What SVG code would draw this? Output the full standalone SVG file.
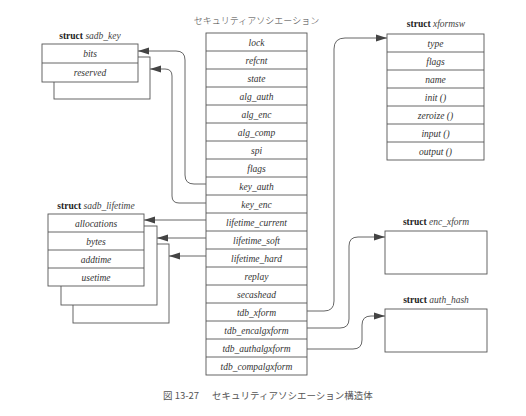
<svg xmlns="http://www.w3.org/2000/svg" width="526" height="416" viewBox="0 0 526 416">
<defs>
<marker id="ah" markerUnits="userSpaceOnUse" markerWidth="11" markerHeight="8" refX="11" refY="4" orient="auto">
<path d="M0,0.5 L11,4 L0,7.5 z" fill="#444"/>
</marker>
<style>
.bx{fill:#fff;stroke:#555;stroke-width:0.9}
.ln{stroke:#555;stroke-width:0.9}
.f{font-style:italic;font-size:9.5px;fill:#333;text-anchor:middle}
.t{font-size:9.5px;fill:#222;text-anchor:middle}
.t .b{font-weight:bold;font-style:normal}
.t .i{font-style:italic;fill:#444}
.c{fill:none;stroke:#666;stroke-width:1}
.jp{fill:#444}
</style>
</defs>
<rect width="526" height="416" fill="#fff"/>
<g font-family="Liberation Serif, Times New Roman, serif">

<g id="sa">
<text class="jp" x="256.5" y="24" font-size="9" text-anchor="middle" font-family="Noto Sans CJK JP, sans-serif" font-weight="300">セキュリティアソシエーション</text>
<rect class="bx" x="206" y="33" width="101" height="342"/>
<g class="ln">
<line x1="206" y1="51" x2="307" y2="51"/><line x1="206" y1="69" x2="307" y2="69"/><line x1="206" y1="87" x2="307" y2="87"/><line x1="206" y1="105" x2="307" y2="105"/><line x1="206" y1="123" x2="307" y2="123"/><line x1="206" y1="141" x2="307" y2="141"/><line x1="206" y1="159" x2="307" y2="159"/><line x1="206" y1="177" x2="307" y2="177"/><line x1="206" y1="195" x2="307" y2="195"/><line x1="206" y1="213" x2="307" y2="213"/><line x1="206" y1="231" x2="307" y2="231"/><line x1="206" y1="249" x2="307" y2="249"/><line x1="206" y1="267" x2="307" y2="267"/><line x1="206" y1="285" x2="307" y2="285"/><line x1="206" y1="303" x2="307" y2="303"/><line x1="206" y1="321" x2="307" y2="321"/><line x1="206" y1="339" x2="307" y2="339"/><line x1="206" y1="357" x2="307" y2="357"/>
</g>
<text class="f" x="256.5" y="45.5">lock</text>
<text class="f" x="256.5" y="63.5">refcnt</text>
<text class="f" x="256.5" y="81.5">state</text>
<text class="f" x="256.5" y="99.5">alg_auth</text>
<text class="f" x="256.5" y="117.5">alg_enc</text>
<text class="f" x="256.5" y="135.5">alg_comp</text>
<text class="f" x="256.5" y="153.5">spi</text>
<text class="f" x="256.5" y="171.5">flags</text>
<text class="f" x="256.5" y="189.5">key_auth</text>
<text class="f" x="256.5" y="207.5">key_enc</text>
<text class="f" x="256.5" y="225.5">lifetime_current</text>
<text class="f" x="256.5" y="243.5">lifetime_soft</text>
<text class="f" x="256.5" y="261.5">lifetime_hard</text>
<text class="f" x="256.5" y="279.5">replay</text>
<text class="f" x="256.5" y="297.5">secashead</text>
<text class="f" x="256.5" y="315.5">tdb_xform</text>
<text class="f" x="256.5" y="333.5">tdb_encalgxform</text>
<text class="f" x="256.5" y="351.5">tdb_authalgxform</text>
<text class="f" x="256.5" y="369.5">tdb_compalgxform</text>
</g>

<g id="sadb_key">
<text class="t" x="90" y="39"><tspan class="b">struct</tspan> <tspan class="i">sadb_key</tspan></text>
<rect class="bx" x="54" y="57" width="96" height="42"/>
<rect class="bx" x="42" y="44" width="96" height="38"/>
<line class="ln" x1="42" y1="63" x2="138" y2="63"/>
<text class="f" x="90" y="57">bits</text>
<text class="f" x="90" y="76">reserved</text>
</g>

<g id="sadb_lifetime">
<text class="t" x="96" y="209"><tspan class="b">struct</tspan> <tspan class="i">sadb_lifetime</tspan></text>
<rect class="bx" x="73" y="244" width="96" height="79"/>
<rect class="bx" x="61" y="226" width="96" height="79"/>
<rect class="bx" x="48" y="214" width="96" height="72"/>
<g class="ln">
<line x1="48" y1="232" x2="144" y2="232"/><line x1="48" y1="250" x2="144" y2="250"/><line x1="48" y1="268" x2="144" y2="268"/>
</g>
<text class="f" x="96" y="226.5">allocations</text>
<text class="f" x="96" y="244.5">bytes</text>
<text class="f" x="96" y="262.5">addtime</text>
<text class="f" x="96" y="280.5">usetime</text>
</g>

<g id="xformsw">
<text class="t" x="436" y="27"><tspan class="b">struct</tspan> <tspan class="i">xformsw</tspan></text>
<rect class="bx" x="387" y="34" width="97" height="126"/>
<g class="ln">
<line x1="387" y1="52" x2="484" y2="52"/><line x1="387" y1="70" x2="484" y2="70"/><line x1="387" y1="88" x2="484" y2="88"/><line x1="387" y1="106" x2="484" y2="106"/><line x1="387" y1="124" x2="484" y2="124"/><line x1="387" y1="142" x2="484" y2="142"/>
</g>
<text class="f" x="435.5" y="46.5">type</text>
<text class="f" x="435.5" y="64.5">flags</text>
<text class="f" x="435.5" y="82.5">name</text>
<text class="f" x="435.5" y="100.5">init ()</text>
<text class="f" x="435.5" y="118.5">zeroize ()</text>
<text class="f" x="435.5" y="136.5">input ()</text>
<text class="f" x="435.5" y="154.5">output ()</text>
</g>

<g id="enc_xform">
<text class="t" x="436" y="225"><tspan class="b">struct</tspan> <tspan class="i">enc_xform</tspan></text>
<rect class="bx" x="385" y="231" width="102" height="43"/>
</g>

<g id="auth_hash">
<text class="t" x="436" y="303"><tspan class="b">struct</tspan> <tspan class="i">auth_hash</tspan></text>
<rect class="bx" x="385" y="309" width="102" height="43"/>
</g>

<g id="connectors">
<path class="c" marker-end="url(#ah)" d="M206,184 H194 Q185,184 185,175 V60 Q185,51 176,51 H138"/>
<path class="c" marker-end="url(#ah)" d="M206,203 H179 Q172,203 172,196 V76 Q172,69 165,69 H150"/>
<path class="c" marker-end="url(#ah)" d="M206,220 H144"/>
<path class="c" marker-end="url(#ah)" d="M206,238 H157"/>
<path class="c" marker-end="url(#ah)" d="M206,256 H169"/>
<path class="c" marker-end="url(#ah)" d="M307,311 H324 Q334,311 334,301 V49 Q334,38 345,38 H387"/>
<path class="c" marker-end="url(#ah)" d="M307,328 H340 Q349,328 349,319 V246 Q349,237 358,237 H385"/>
<path class="c" marker-end="url(#ah)" d="M307,349 H353 Q362,349 362,340 V325 Q362,316 371,316 H385"/>
</g>

<text x="163" y="399" font-size="9.5" font-family="Noto Sans CJK JP, sans-serif" font-weight="400" fill="#555"><tspan>図 13-27</tspan><tspan x="212">セキュリティアソシエーション構造体</tspan></text>
</g>
</svg>
